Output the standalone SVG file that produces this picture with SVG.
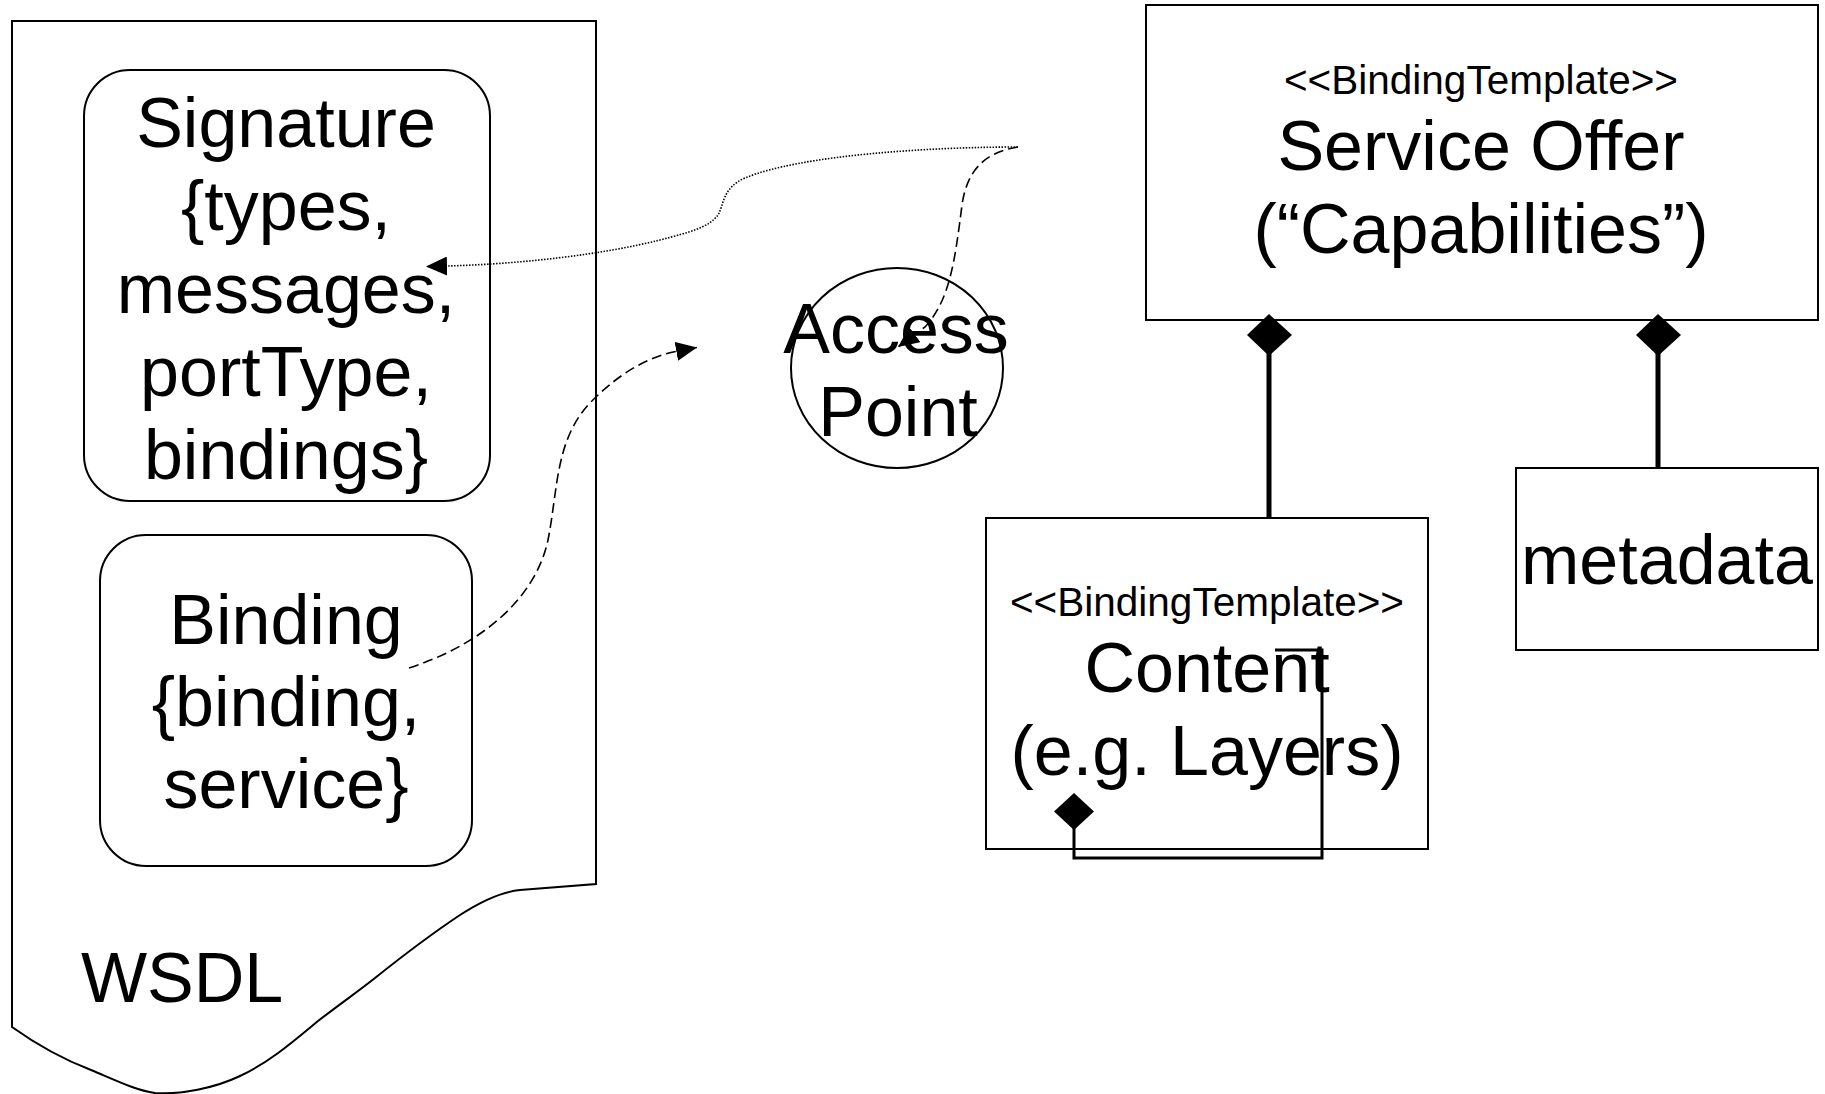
<svg xmlns="http://www.w3.org/2000/svg" width="1825" height="1094" viewBox="0 0 1825 1094">
<style>
.shape{fill:#fff;stroke:#000;stroke-width:2}
.t{font-family:"Liberation Sans",Arial,sans-serif;font-size:70px;fill:#000;text-anchor:middle}
.st{font-family:"Liberation Sans",Arial,sans-serif;font-size:40.5px;fill:#000;text-anchor:middle}
.dot{fill:none;stroke:#000;stroke-width:1.6;stroke-dasharray:1.5 1.5}
.dash{fill:none;stroke:#000;stroke-width:1.6;stroke-dasharray:10 5}
.comp{fill:none;stroke:#000;stroke-width:5}
.loop{fill:none;stroke:#000;stroke-width:3}
.dia{fill:#000;stroke:none}
</style>
<defs>
<marker id="arr" viewBox="0 0 21 19" refX="21" refY="9.5" markerWidth="21" markerHeight="19" markerUnits="userSpaceOnUse" orient="auto">
<path d="M0,0 L21,9.5 L0,19 z" fill="#000"/>
</marker>
</defs>
<g id="wsdl">
<path class="shape" d="M12,21 L596,21 L596,884 L520,890 C 500,892 480,902 460,915 C 430,935 400,958 375,978 C 360,990 340,1004 318,1021 C 295,1040 270,1062 240,1076 C 215,1088 180,1095 155,1093 C 135,1090 115,1080 91,1070 C 70,1062 40,1047 12,1027 Z"/>
<text class="t" x="81" y="1002" style="text-anchor:start">WSDL</text>
</g>
<g id="signature">
<rect class="shape" x="84" y="70" width="406" height="431" rx="46" ry="46"/>
<text class="t" x="286" y="147">Signature</text>
<text class="t" x="286" y="230">{types,</text>
<text class="t" x="286" y="313">messages,</text>
<text class="t" x="286" y="396">portType,</text>
<text class="t" x="286" y="479">bindings}</text>
</g>
<g id="binding">
<rect class="shape" x="100" y="535" width="372" height="331" rx="46" ry="46"/>
<text class="t" x="286" y="644">Binding</text>
<text class="t" x="286" y="726">{binding,</text>
<text class="t" x="286" y="808">service}</text>
</g>
<g id="access-point">
<ellipse class="shape" cx="897" cy="368" rx="106" ry="100"/>
<text class="t" x="896" y="353">Access</text>
<text class="t" x="898" y="436">Point</text>
</g>
<g id="service-offer">
<rect class="shape" x="1146" y="5" width="672" height="315"/>
<text class="st" x="1481" y="94">&lt;&lt;BindingTemplate&gt;&gt;</text>
<text class="t" x="1481" y="170">Service Offer</text>
<text class="t" x="1481" y="253">(“Capabilities”)</text>
</g>
<g id="content">
<rect class="shape" x="986" y="518" width="442" height="331"/>
<text class="st" x="1207" y="616">&lt;&lt;BindingTemplate&gt;&gt;</text>
<text class="t" x="1207" y="692">Content</text>
<text class="t" x="1207" y="775">(e.g. Layers)</text>
</g>
<g id="metadata">
<rect class="shape" x="1516" y="468" width="302" height="182"/>
<text class="t" x="1667" y="584">metadata</text>
</g>
<g id="connectors">
<path class="dot" d="M1018,147 C 930,147 800,155 745,178 C 722,188 724,205 718,215 C 708,228 690,232 660,240 C 600,255 520,264 447,266 L426,266.5" marker-end="url(#arr)"/>
<path class="dash" d="M409,668 C 480,645 535,600 548,540 C 558,490 555,440 590,403 C 620,372 650,356 678,351 L697,347.5" marker-end="url(#arr)"/>
<path class="dash" d="M1018,147 C 985,152 967,170 962,205 C 955,260 950,300 925,327 L898,347" marker-end="url(#arr)"/>
<line class="comp" x1="1269" y1="352" x2="1269" y2="518"/>
<polygon class="dia" points="1269,314 1292,335 1269,356 1247,335"/>
<line class="comp" x1="1658" y1="352" x2="1658" y2="468"/>
<polygon class="dia" points="1658,314 1681,335 1658,356 1636,335"/>
<path class="loop" d="M1074,826 L1074,858 L1322,858 L1322,650 L1275,650"/>
<polygon class="dia" points="1074,793 1094,811.5 1074,830 1054,811.5"/>
</g>
</svg>
